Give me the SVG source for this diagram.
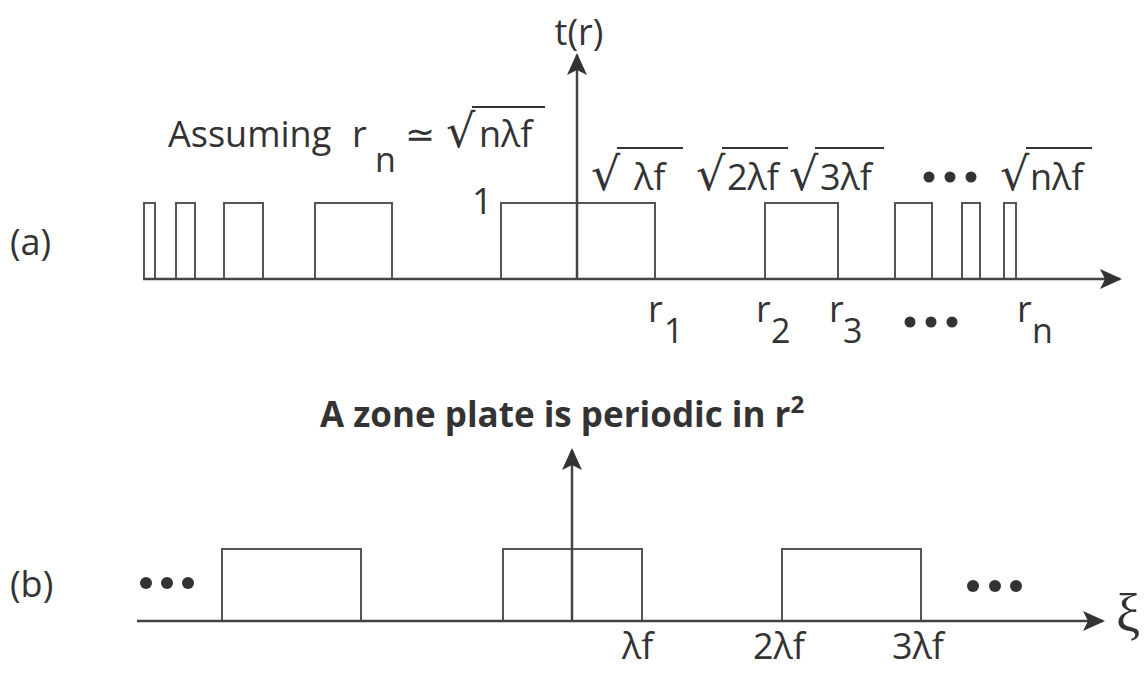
<svg xmlns="http://www.w3.org/2000/svg" width="1146" height="675" viewBox="0 0 1146 675">
<style>
.t{font-family:"Open Sans","Liberation Sans",sans-serif;fill:#333;font-size:36px}
.s{font-family:"Open Sans","Liberation Sans",sans-serif;fill:#333;font-size:34px}
.rad{font-family:"DejaVu Sans",sans-serif;fill:#333;font-size:46px}
.b{font-family:"Open Sans","Liberation Sans",sans-serif;fill:#333;font-size:35px;font-weight:bold}
.ax{stroke:#444;stroke-width:2.5;fill:none}
.pl{stroke:#555;stroke-width:2;fill:none}
.ob{stroke:#333;stroke-width:2;fill:none}
.dot{fill:#333}
</style>
<defs>
<marker id="ah" markerWidth="22" markerHeight="22" refX="20" refY="11" orient="auto" markerUnits="userSpaceOnUse" viewBox="0 0 22 22">
<path d="M0,1 L22,11 L0,21 L5,11 Z" fill="#333"/>
</marker>
</defs>
<rect width="1146" height="675" fill="#fff"/>
<g id="connectors">
<path class="pl" d="M144,279 V203 H155 V279 H176 V203 H195 V279 H224 V203 H263 V279 H315 V203 H392 V279 H501 V203 H655 V279 H765 V203 H838 V279 H895 V203 H932 V279 H962 V203 H980 V279 H1004 V203 H1016 V279"/>
<line class="ax" x1="143" y1="279" x2="1120" y2="279" marker-end="url(#ah)"/>
<line class="ax" x1="577" y1="279" x2="577" y2="55" marker-end="url(#ah)"/>
<path class="pl" d="M222,621 V549 H361 V621 M503,621 V549 H642 V621 M782,621 V549 H921 V621"/>
<line class="ax" x1="137" y1="621" x2="1103" y2="621" marker-end="url(#ah)"/>
<line class="ax" x1="572" y1="621" x2="572" y2="450" marker-end="url(#ah)"/>
</g>
<g id="labels-a">
<text class="t" x="10" y="255">(a)</text>
<text class="t" x="579" y="45" text-anchor="middle">t(r)</text>
<text class="t" x="472" y="214">1</text>
<text class="t" x="168" y="147">Assuming</text>
<text class="t" x="352" y="147">r</text>
<text class="s" x="375" y="172">n</text>
<text class="t" x="405" y="147">≃</text>
<text class="rad" x="446" y="147">√</text>
<line class="ob" x1="472" y1="107" x2="545" y2="107"/>
<text class="t" x="479" y="147">nλf</text>
<text class="rad" x="591" y="190">√</text>
<line class="ob" x1="617" y1="148" x2="683" y2="148"/>
<text class="t" x="634" y="190">λf</text>
<text class="rad" x="696" y="190">√</text>
<line class="ob" x1="722" y1="148" x2="788" y2="148"/>
<text class="t" x="727" y="190">2λf</text>
<text class="rad" x="789" y="190">√</text>
<line class="ob" x1="815" y1="148" x2="884" y2="148"/>
<text class="t" x="820" y="190">3λf</text>
<circle class="dot" cx="929" cy="177" r="5.5"/><circle class="dot" cx="950" cy="177" r="5.5"/><circle class="dot" cx="971" cy="177" r="5.5"/>
<text class="rad" x="1000" y="190">√</text>
<line class="ob" x1="1026" y1="148" x2="1092" y2="148"/>
<text class="t" x="1030" y="190">nλf</text>
<text class="t" x="648" y="322">r</text><text class="s" x="664" y="343">1</text>
<text class="t" x="756" y="322">r</text><text class="s" x="771" y="343">2</text>
<text class="t" x="829" y="322">r</text><text class="s" x="843" y="343">3</text>
<circle class="dot" cx="910" cy="322" r="5.5"/><circle class="dot" cx="931" cy="322" r="5.5"/><circle class="dot" cx="952" cy="322" r="5.5"/>
<text class="t" x="1017" y="322">r</text><text class="s" x="1032" y="343">n</text>
</g>
<g id="title">
<text class="b" x="320" y="427">A zone plate is periodic in r<tspan font-size="24" dy="-14">2</tspan></text>
</g>
<g id="labels-b">
<text class="t" x="10" y="597">(b)</text>
<circle class="dot" cx="146" cy="583" r="6"/><circle class="dot" cx="167" cy="583" r="6"/><circle class="dot" cx="188" cy="583" r="6"/>
<circle class="dot" cx="973" cy="586" r="6"/><circle class="dot" cx="995" cy="586" r="6"/><circle class="dot" cx="1016" cy="586" r="6"/>
<text x="1116" y="632" font-size="54" font-family="Liberation Serif,serif" fill="#333">ξ</text>
<text class="t" x="622" y="659" font-size="32">λf</text>
<text class="t" x="753" y="659" font-size="32">2λf</text>
<text class="t" x="892" y="659" font-size="32">3λf</text>
</g>
</svg>
